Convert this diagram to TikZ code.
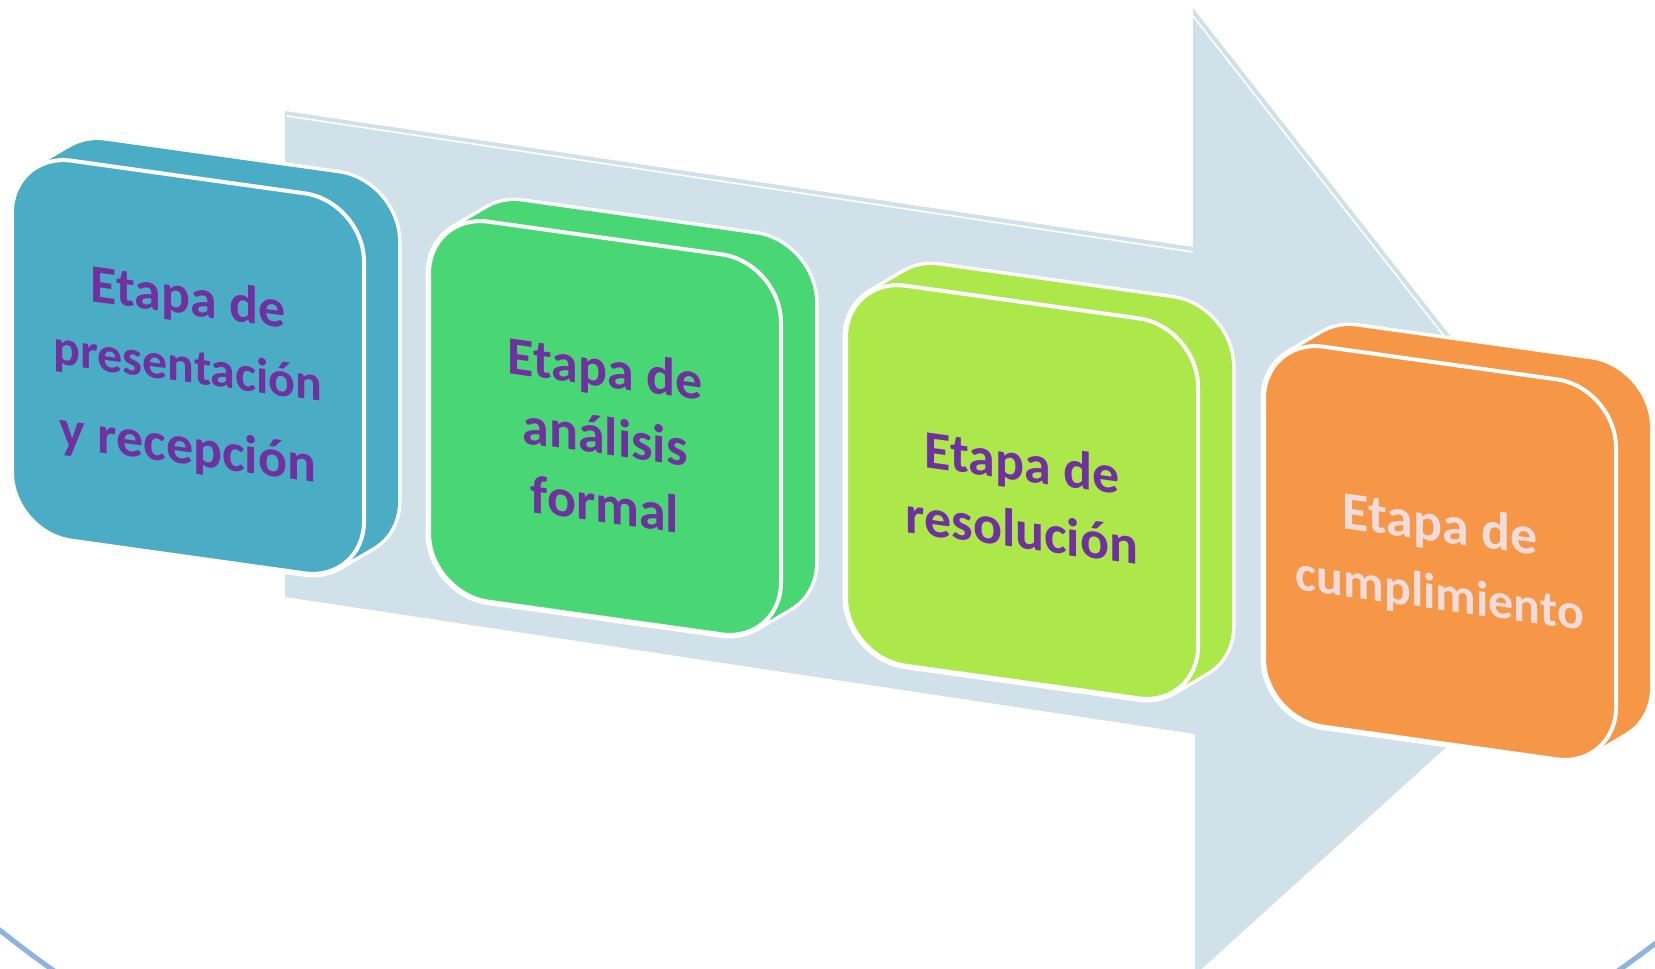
\documentclass[tikz,border=0pt]{standalone}
\usepackage{fontspec}
\setmainfont{Carlito}
\definecolor{flecha}{HTML}{D0E1E9}
\definecolor{marco}{HTML}{8DB3E2}
\definecolor{azul}{HTML}{4BACC6}
\definecolor{verde}{HTML}{48D774}
\definecolor{lima}{HTML}{ADE84A}
\definecolor{naranja}{HTML}{F59747}
\definecolor{morado}{HTML}{7030A0}
\definecolor{rosa}{HTML}{F2DCDB}
\newcommand{\largo}{\fontsize{25}{34}\selectfont}
\tikzset{
  cara/.style={rounded corners=30pt},
  etiqueta/.style={yslant=-0.14, align=center, text=morado,
    font=\bfseries\fontsize{27}{34}\selectfont}
}
\begin{document}
\begin{tikzpicture}[x=0.5pt,y=-0.5pt]
\useasboundingbox (0,0) rectangle (1655,969);
\clip (0,0) rectangle (1655,969);

\draw[marco, line width=2.5pt] (836,300) ellipse [x radius=582.5pt, y radius=452.5pt];

\fill[flecha] (285,111) -- (1193,247) -- (1193,8) -- (1637,574) -- (1195,975)
  -- (1195,734) -- (285,597) -- cycle;
\draw[white, line width=0.8pt] (287,116) -- (1193,252);
\draw[white, line width=0.8pt] (1193,16) -- (1633,577);

\foreach \cx/\cy/\col in {188/367/azul, 605/428/verde, 1022/492/lima, 1440/553/naranja} {
  \foreach \k in {0,...,12}
    \draw[cara, white, line width=3.5pt, shift={(\cx+\k*34/12,\cy-\k*20/12)}, yslant=-0.14]
      (-176,-190) -- (176,-190) -- (176,190) -- (-176,190) -- cycle;
  \foreach \k in {0,...,12}
    \fill[cara, \col, shift={(\cx+\k*34/12,\cy-\k*20/12)}, yslant=-0.14]
      (-176,-190) -- (176,-190) -- (176,190) -- (-176,190) -- cycle;
  \filldraw[cara, fill=\col, draw=white, line width=2pt, shift={(\cx,\cy)}, yslant=-0.14]
    (-176,-190) -- (176,-190) -- (176,190) -- (-176,190) -- cycle;
}

\node[etiqueta] (presentacion) at (188,375) {Etapa de\\{\largo presentación}\\[7pt]y recepción};
\node[etiqueta] (analisis) at (605,436) {Etapa de\\análisis\\formal};
\node[etiqueta] (resolucion) at (1022,496) {Etapa de\\resolución};
\node[etiqueta, text=rosa] (cumplimiento) at (1440,561) {Etapa de\\{\largo cumplimiento}};
\end{tikzpicture}
\end{document}
